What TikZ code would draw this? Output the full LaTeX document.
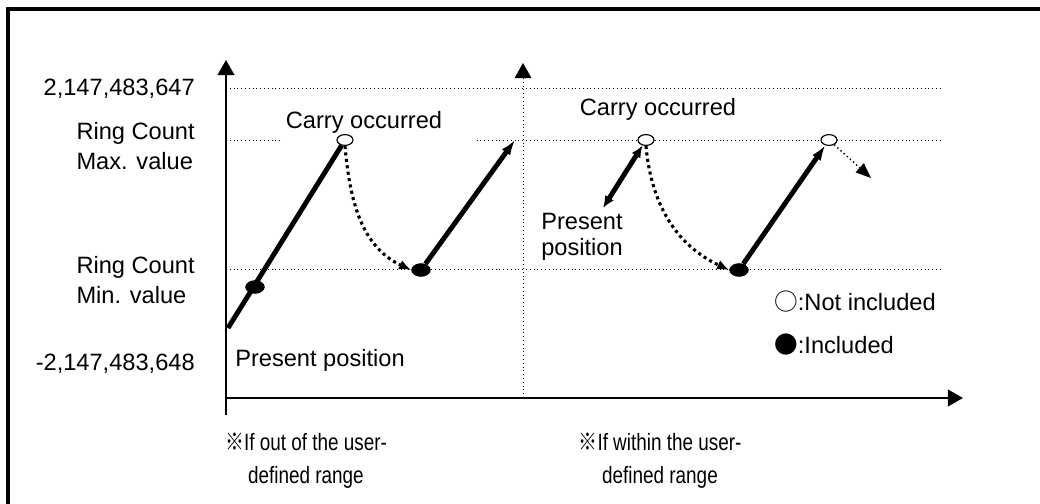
\documentclass[tikz,border=0pt]{standalone}
\usepackage{fontspec}
\setmainfont{Liberation Sans}
\newfontfamily\cjk{Noto Sans CJK JP}
\usetikzlibrary{arrows.meta, positioning, shapes.geometric}

\begin{document}
\begin{tikzpicture}[
  x=0.025cm, y=-0.025cm,
  font=\fontsize{16.8}{21}\selectfont,
  axis/.style={line width=1.4pt, -{Triangle[length=0.38cm, width=0.42cm]}},
  grid/.style={dotted, line width=0.7pt},
  ramp/.style={line width=3.5pt},
  ramparr/.style={line width=3.5pt, -{Latex[length=0.38cm, width=0.26cm]}},
  jump/.style={line width=2.2pt, dash pattern=on 2.2pt off 2.4pt,
    -{Latex[length=0.3cm, width=0.25cm]}},
  opendot/.style={ellipse, draw, fill=white, line width=0.8pt,
    minimum width=0.4cm, minimum height=0.27cm, inner sep=0pt},
  fulldot/.style={ellipse, fill=black, minimum width=0.48cm,
    minimum height=0.33cm, inner sep=0pt},
  lbl/.style={align=left, inner sep=0pt},
  caption/.style={align=center, transform shape, xscale=0.8,
    font=\fontsize{16.8}{23.5}\selectfont}
]
\useasboundingbox (0,0) rectangle (1040,504);

% frame
\draw[line width=0.1cm] (8,504) -- (8,9.5) -- (1040,9.5);

% axes
\draw[axis] (226,415) -- (226,60);
\draw[axis] (226,398) -- (963,398);
\draw[grid, -{Triangle[length=0.38cm, width=0.42cm]}] (523,398) -- (523,63);

% levels
\draw[grid] (226,88) -- (940,88);
\draw[grid] (226,140) -- (940,140);
\draw[grid] (226,269) -- (943,269);

% value labels
\node[lbl, anchor=east] (vmax) at (195,89) {2,147,483,647};
\node[lbl, anchor=east] (rcmax) at (195,146) {Ring Count\\Max. value};
\node[lbl, anchor=east] (rcmin) at (195,280) {Ring Count\\Min. value};
\node[lbl, anchor=east] (vmin) at (195,364) {-2,147,483,648};

% out of range
\node[fill=white, minimum width=4.8cm, minimum height=1.1cm] (carry1) at (379,122) {};
\node at (364,122) {Carry occurred};
\node[opendot] (c1) at (345,140) {};
\node[fulldot] (d1) at (255,287) {};
\node[fulldot] (d2) at (421,270) {};
\coordinate (pp1) at (228,328);
\coordinate (tip1) at (515,140);
\draw[ramp] (pp1) -- (c1);
\node[fulldot] at (255,287) {};
\draw[jump] (c1.south) to[out=-85, in=155] (d2.west);
\draw[ramparr] (d2) -- (tip1);
\node[fulldot] at (421,270) {};
\node[lbl, anchor=west] (pos1) at (235,360) {Present position};

% within range
\node (carry2) at (658,109) {Carry occurred};
\node[opendot] (c3) at (646,140) {};
\node[fulldot] (d3) at (739,270) {};
\node[opendot] (c4) at (829,140) {};
\coordinate (pp2) at (603,208);
\coordinate (next) at (871,178);
\draw[line width=3.5pt, {Latex[length=0.3cm, width=0.26cm]}-{Latex[length=0.3cm, width=0.26cm]}] (pp2) -- (c3);
\draw[jump] (c3.south) to[out=-85, in=155] (d3.west);
\draw[ramparr] (d3) -- (c4);
\node[fulldot] at (739,270) {};
\draw[grid, line width=1pt, -{Triangle[length=0.38cm, width=0.3cm]}] (c4) -- (next);
\node[lbl, anchor=west, font=\fontsize{16.8}{18.5}\selectfont] (pos2) at (541,237) {Present\\position};

% legend
\node[lbl, anchor=west] (lgopen) at (774,302) {{\cjk ○}:Not included};
\node[lbl, anchor=west] (lgfull) at (774,345) {{\cjk ●}:Included};

% captions
\node[caption] (cap1) at (306,461) {{\cjk ※}If out of the user-\\defined range};
\node[caption] (cap2) at (660,461) {{\cjk ※}If within the user-\\defined range};
\end{tikzpicture}
\end{document}
